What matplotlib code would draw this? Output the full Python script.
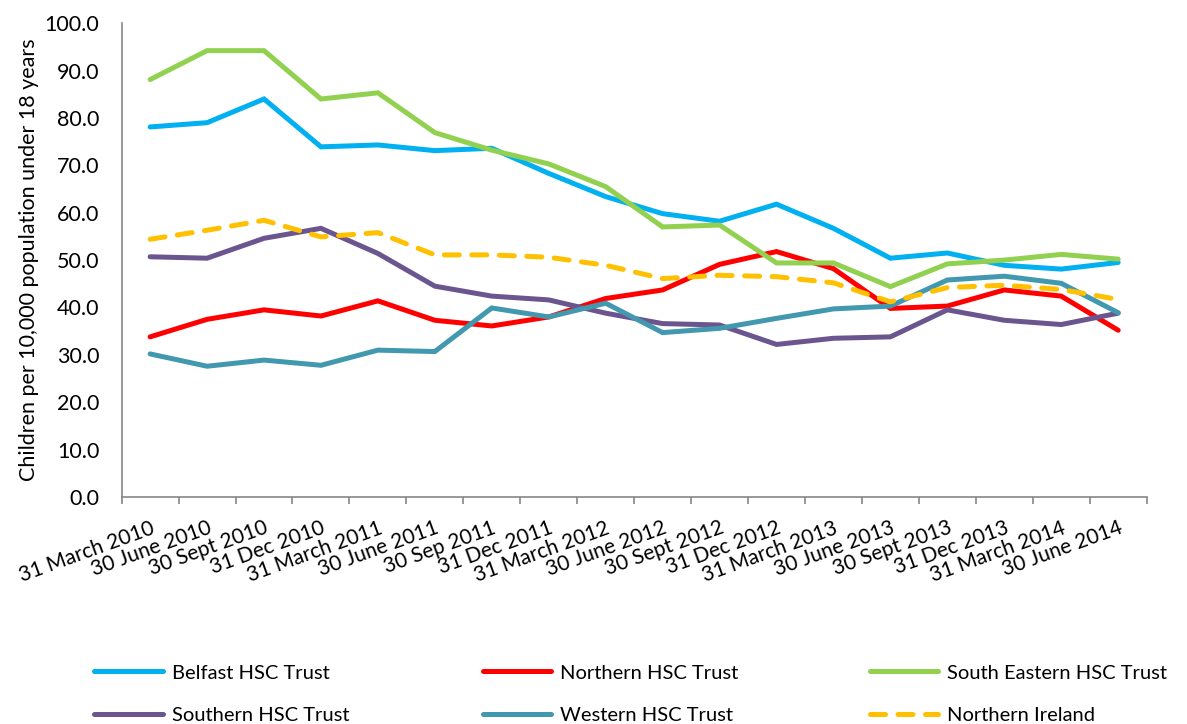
import matplotlib
matplotlib.use("Agg")
import matplotlib.pyplot as plt
import numpy as np

plt.rcParams["font.family"] = ["Lato", "DejaVu Sans"]

dates = ["31 March 2010", "30 June 2010", "30 Sept 2010", "31 Dec 2010",
         "31 March 2011", "30 June 2011", "30 Sep 2011", "31 Dec 2011",
         "31 March 2012", "30 June 2012", "30 Sept 2012", "31 Dec 2012",
         "31 March 2013", "30 June 2013", "30 Sept 2013", "31 Dec 2013",
         "31 March 2014", "30 June 2014"]

belfast = [78.1, 79.0, 84.0, 73.9, 74.3, 73.1, 73.6, 68.3, 63.4,
           59.8, 58.2, 61.8, 56.7, 50.4, 51.5, 48.9, 48.1, 49.5]
northern = [33.8, 37.5, 39.5, 38.2, 41.4, 37.3, 36.1, 38.0, 41.9,
            43.7, 49.1, 51.8, 48.2, 39.8, 40.3, 43.7, 42.4, 35.2]
south_eastern = [88.1, 94.2, 94.2, 84.0, 85.3, 76.9, 73.2, 70.3, 65.5,
                 57.0, 57.4, 49.4, 49.4, 44.4, 49.2, 50.0, 51.2, 50.2]
southern = [50.7, 50.4, 54.6, 56.7, 51.4, 44.5, 42.4, 41.6, 38.8,
            36.6, 36.3, 32.2, 33.5, 33.8, 39.5, 37.3, 36.4, 38.8]
western = [30.2, 27.6, 28.9, 27.8, 31.0, 30.7, 39.9, 38.0, 40.9,
           34.7, 35.6, 37.7, 39.7, 40.3, 45.8, 46.6, 45.1, 38.9]
northern_ireland = [54.4, 56.3, 58.4, 54.9, 55.8, 51.1, 51.1, 50.6, 48.9,
                    46.1, 46.8, 46.5, 45.2, 41.2, 44.2, 44.7, 43.8, 41.7]

series = [
    ("Belfast HSC Trust", belfast, "#00B0F0", "-"),
    ("Northern HSC Trust", northern, "#FF0000", "-"),
    ("South Eastern HSC Trust", south_eastern, "#92D050", "-"),
    ("Southern HSC Trust", southern, "#6B558F", "-"),
    ("Western HSC Trust", western, "#4198AF", "-"),
    ("Northern Ireland", northern_ireland, "#FFC000", "--"),
]

fig = plt.figure(figsize=(11.87, 7.24), dpi=100)
ax = fig.add_axes([0.1025, 0.3135, 0.8635, 0.6545])

x = np.arange(len(dates))
lines = []
for label, vals, color, ls in series:
    if ls == "--":
        ln, = ax.plot(x, vals, color=color, lw=3.6, ls=(0, (3, 2.5)),
                      dash_capstyle="round", label=label)
    else:
        ln, = ax.plot(x, vals, color=color, lw=3.6, solid_capstyle="round",
                      solid_joinstyle="miter", label=label)
    lines.append(ln)

ax.set_xlim(-0.5, len(dates) - 0.5)
ax.set_ylim(0, 100)
ax.set_yticks(np.arange(0, 101, 10))
ax.set_yticklabels([f"{v:.1f}" for v in np.arange(0, 101, 10)], fontsize=15.5)
ax.tick_params(axis="y", length=0, pad=16)

ax.set_xticks(x)
ax.set_xticklabels(dates, rotation=20, ha="right", rotation_mode="anchor",
                   fontsize=15)
ax.set_xticks(np.arange(-0.5, len(dates), 1), minor=True)
ax.tick_params(axis="x", which="major", length=0, pad=15)
ax.tick_params(axis="x", which="minor", length=5, color="#868686", width=1.2)

for side in ["top", "right"]:
    ax.spines[side].set_visible(False)
for side in ["left", "bottom"]:
    ax.spines[side].set_color("#868686")
    ax.spines[side].set_linewidth(1.2)

ax.set_ylabel("Children per 10,000 population under 18 years", fontsize=15.5,
              labelpad=4)

# three legend columns, rows read left to right
col_x = [0.066, 0.393, 0.719]
for i, cx in enumerate(col_x):
    fig.legend(handles=[lines[i], lines[i + 3]], loc="lower left",
               bbox_to_anchor=(cx, -0.022), ncol=1, frameon=False,
               fontsize=14.5, handlelength=3.4, handletextpad=0.45,
               labelspacing=1.25, borderpad=0.3)

fig.savefig("out.png", dpi=100)
